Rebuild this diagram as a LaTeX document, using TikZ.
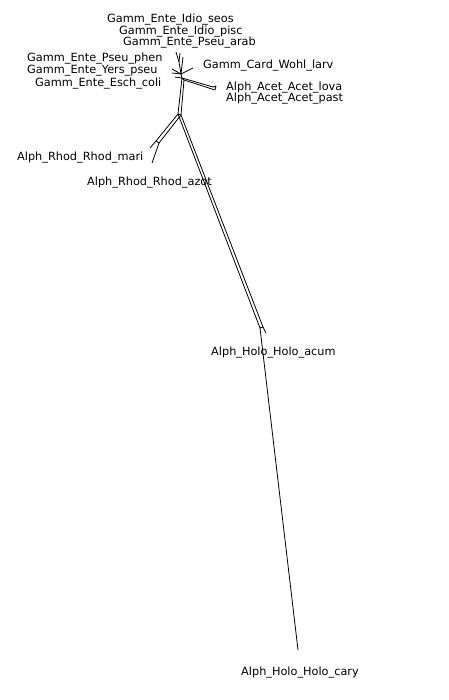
\documentclass[tikz,border=0pt]{standalone}
\usepackage{fontspec}
\setmainfont{DejaVu Sans}
\begin{document}
\begin{tikzpicture}[x=1pt,y=-1pt,
  lbl/.style={anchor=base west,inner sep=0pt,font=\fontsize{11.3}{11.3}\selectfont},
  edge/.style={line width=0.8pt,black}]
\useasboundingbox (0,0) rectangle (448,700);
\fill[white] (0,0) rectangle (448,700);
% labels
\node[lbl] (l1) at (107,23) {Gamm\_Ente\_Idio\_seos};
\node[lbl] (l2) at (119,35) {Gamm\_Ente\_Idio\_pisc};
\node[lbl] (l3) at (123,46) {Gamm\_Ente\_Pseu\_arab};
\node[lbl] (l4) at (27,62) {Gamm\_Ente\_Pseu\_phen};
\node[lbl] (l5) at (27,74) {Gamm\_Ente\_Yers\_pseu};
\node[lbl] (l6) at (35,87) {Gamm\_Ente\_Esch\_coli};
\node[lbl] (l7) at (203,69) {Gamm\_Card\_Wohl\_larv};
\node[lbl] (l8) at (226,91) {Alph\_Acet\_Acet\_lova};
\node[lbl] (l9) at (226,102) {Alph\_Acet\_Acet\_past};
\node[lbl] (l10) at (17,161) {Alph\_Rhod\_Rhod\_mari};
\node[lbl] (l11) at (87,186) {Alph\_Rhod\_Rhod\_azot};
\node[lbl] (l12) at (211,355) {Alph\_Holo\_Holo\_acum};
\node[lbl] (l13) at (241,675) {Alph\_Holo\_Holo\_cary};
% network vertices
\coordinate (k) at (181,74);
\coordinate (k2) at (182,78);
\coordinate (k3) at (184,80);
\coordinate (ka) at (179,62);
\coordinate (tA) at (176,52);
\coordinate (tB) at (180,53);
\coordinate (tC) at (183,57);
\coordinate (pL1) at (172,69);
\coordinate (pL2) at (172,73);
\coordinate (pL3) at (175,77);
\coordinate (wl) at (193,68);
\coordinate (a1) at (213,87);
\coordinate (a2) at (215,90);
\coordinate (a3) at (216,86);
\coordinate (s1) at (178,114);
\coordinate (s2) at (181,115);
\coordinate (rA) at (156,141);
\coordinate (rB) at (159,143);
\coordinate (r1) at (152,163);
\coordinate (r3) at (150,148);
\coordinate (h1) at (260,328);
\coordinate (h2) at (263,327);
\coordinate (h3) at (266,333);
\coordinate (hc) at (298,650);
% edges
\draw[edge] (k) -- (ka) -- (tA);
\draw[edge] (ka) -- (tB);
\draw[edge] (k) -- (tC);
\draw[edge] (k) -- (pL1);
\draw[edge] (k) -- (pL2);
\draw[edge] (k2) -- (pL3);
\draw[edge] (k) -- (wl);
\draw[edge] (k) -- (k2) -- (k3);
\draw[edge] (k2) -- (a1);
\draw[edge] (k3) -- (a2);
\draw[edge] (a1) -- (a3);
\draw[edge] (a2) -- (a3);
\draw[edge] (k2) -- (s1);
\draw[edge] (k3) -- (s2);
\draw[edge] (s1) -- (s2);
\draw[edge] (s1) -- (rA);
\draw[edge] (s2) -- (rB);
\draw[edge] (rA) -- (rB);
\draw[edge] (rB) -- (r1);
\draw[edge] (rA) -- (r3);
\draw[edge] (s1) -- (h1);
\draw[edge] (s2) -- (h2);
\draw[edge] (h1) -- (h2) -- (h3);
\draw[edge] (h1) -- (hc);
\end{tikzpicture}
\end{document}
